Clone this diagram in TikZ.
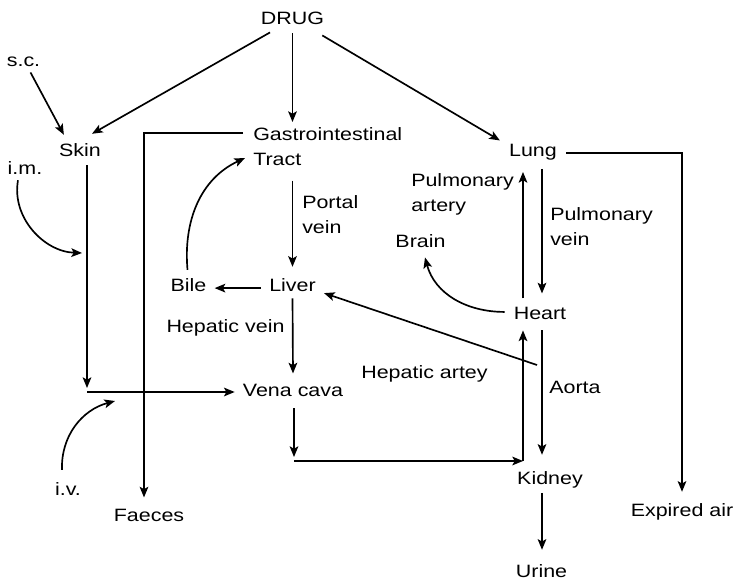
\documentclass[tikz,border=0pt]{standalone}
\usepackage{fontspec}
\setmainfont{Liberation Sans}[FakeStretch=1.2]
\usepackage{tikz}
\usetikzlibrary{positioning, calc, arrows.meta}
\tikzset{
    organ/.style={
        inner sep=0pt, anchor=base, font=\fontsize{13.4}{18.8}\selectfont
    },
    vessel/.style={
        inner sep=0pt, anchor=north west, align=left, font=\fontsize{13.4}{18.8}\selectfont
    },
    flow/.style={
        -{Stealth[length=8pt, width=6.5pt, inset=1.8pt]}, line width=1.25pt
    }
}

\begin{document}
\begin{tikzpicture}[x=0.75pt, y=0.75pt]
    \useasboundingbox (0,0) rectangle (733,-581);

    % 1. ORGANS AND ROUTES
    \node[organ] (drug) at (292.5,-25) {DRUG};
    \node[organ] (sc) at (23.5,-67) {s.c.};
    \node[organ] (skin) at (80,-157) {Skin};
    \node[organ] (im) at (25,-175) {i.m.};
    \node[vessel] (gi) at (253,-127) {Gastrointestinal\\Tract};
    \node[organ] (lung) at (533,-157) {Lung};
    \node[organ] (brain) at (420.5,-248) {Brain};
    \node[organ] (bile) at (188.5,-292) {Bile};
    \node[organ] (liver) at (292.5,-292) {Liver};
    \node[organ] (heart) at (540,-320) {Heart};
    \node[organ] (vena) at (293,-397) {Vena cava};
    \node[organ] (kidney) at (550,-484) {Kidney};
    \node[organ] (iv) at (68,-495) {i.v.};
    \node[organ] (faeces) at (149,-522) {Faeces};
    \node[organ] (expired) at (682,-517) {Expired air};
    \node[organ] (urine) at (541.5,-577) {Urine};

    % 2. VESSEL LABELS
    \node[vessel] (portal) at (302,-195) {Portal\\vein};
    \node[vessel] (partery) at (411,-173) {Pulmonary\\artery};
    \node[vessel] (pvein) at (550,-207) {Pulmonary\\vein};
    \node[organ] (hepvein) at (225.5,-333) {Hepatic vein};
    \node[organ] (hepart) at (424.5,-379) {Hepatic artey};
    \node[organ] (aorta) at (575,-394) {Aorta};

    % 3. FREE ENDS
    \coordinate (join) at (87,-392);
    \coordinate (imend) at (82,-253);
    \coordinate (ivend) at (115,-401);
    \coordinate (vk) at (294,-461);
    \coordinate (kin) at (523,-461);
    \coordinate (hafork) at (537,-365);

    % 4. ARROWS
    % dosing
    \draw[flow] ($(drug.south)+(-22.5,-7)$) -- ($(skin.north)+(12,10)$);
    \draw[flow] ($(drug.south)+(0,-8)$) -- ($(drug.south |- gi.north)+(0,5)$);
    \draw[flow] ($(drug.south east)+(-2,-10)$) -- ($(lung.north west)+(-9,4)$);
    \draw[flow] ($(sc.south)+(7,-5)$) -- ($(skin.north west)+(5,9)$);
    \draw[flow] ($(im.south)+(-7,-5)$) to[out=-100, in=178] (imend);
    \draw[flow] ($(iv.north)+(-6,12)$) to[out=92, in=195] (ivend);

    % skin to vena cava
    \draw[flow] ($(skin.south)+(7,-8)$) -- ($(join)+(0,4)$);
    \draw[flow] (join) -- ($(join -| vena.west)+(-8,0)$);

    % gut, liver and bile
    \draw[flow] ($(gi.north west)+(-10,-6)$) -| ($(faeces.north)+(-5,12)$);
    \draw[flow] ($(bile.north)+(-1,9)$) to[out=95, in=205] ($(gi.north west)+(-8,-31)$);
    \draw[flow] ($(liver.north |- gi.south)+(0,-15)$) -- ($(liver.north)+(0,12)$);
    \draw[flow] ($(liver.west)+(-8,-2.5)$) -- ($(bile.east)+(8,-2.5)$);
    \draw[flow] ($(liver.south)+(0,-6)$) -- ($(vena.north)+(0,11)$);

    % vena cava, kidney and heart
    \draw[flow] ($(vena.south)+(1,-11)$) -- ($(vk)+(0,4)$);
    \draw[flow] (vk) -- (kin);
    \draw[flow] (kin) -- ($(heart.south)+(-17,-10)$);
    \draw[flow] ($(heart.south)+(2,-10)$) -- ($(kidney.north)+(-8,16)$);
    \draw[flow] (hafork) -- ($(liver.east)+(8,-7.5)$);
    \draw[flow] ($(kidney.south)+(-8,-5)$) -- ($(urine.north)+(0.5,14)$);

    % heart, lung and brain
    \draw[flow] ($(heart.north)+(-17,9)$) -- ($(lung.south)+(-10,-11)$);
    \draw[flow] ($(lung.south)+(9,-8)$) -- ($(heart.north)+(2,14)$);
    \draw[flow] ($(heart.west)+(-9,2)$) to[out=180, in=-75] ($(brain.south)+(4.5,-9)$);
    \draw[flow] ($(lung.east)+(9,0)$) -| ($(expired.north)+(0,12)$);
\end{tikzpicture}
\end{document}
